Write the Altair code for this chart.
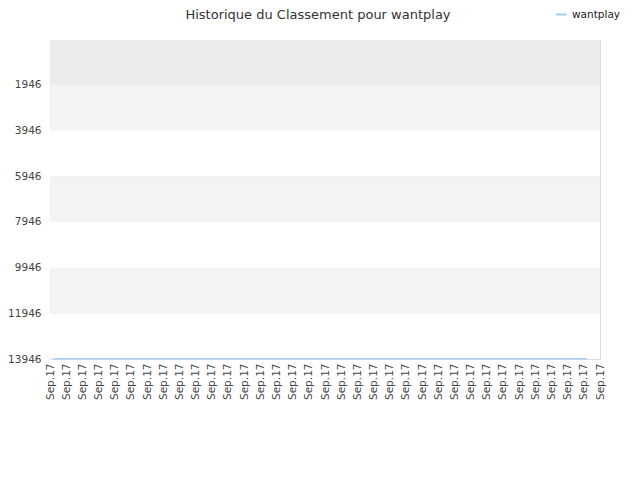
import altair as alt
import pandas as pd

# Data
x_labels = ["Sep.17"] * 35
line_x = [0.2, 4.0, 8.0, 12.0, 16.0, 20.0, 24.0, 26.5, 29.0, 33.2]
line_rank = [13940, 13940, 13940, 13940, 13940, 13940, 13940, 13935, 13940, 13940]
series_name = "wantplay"
y_ticks = [1946, 3946, 5946, 7946, 9946, 11946, 13946]
band_start = [-24, 1946, 3946, 5946, 7946, 9946, 11946]
band_end = [1946, 3946, 5946, 7946, 9946, 11946, 13946]
band_fill = ["#ececec", "#f3f3f3", "#ffffff", "#f3f3f3", "#ffffff", "#f3f3f3", "#ffffff"]

FONT = "DejaVu Sans"
Y_DOMAIN = [13946, -24]
X_DOMAIN = [0, 34]

bands = pd.DataFrame({"y": band_start, "y2": band_end, "fill": band_fill})
line_df = pd.DataFrame({"x": line_x, "rank": line_rank, "s": [series_name] * len(line_x)})

yscale = alt.Scale(domain=Y_DOMAIN, nice=False, zero=False)
xscale = alt.Scale(domain=X_DOMAIN, nice=False, zero=False)

y_axis = alt.Axis(
    values=y_ticks,
    format="d",
    labelFont=FONT,
    labelFontSize=10.5,
    labelColor="#444",
    labelPadding=9,
    ticks=False,
    grid=True,
    gridColor="#dedede",
    domain=True,
    domainColor="#cccccc",
)

band_layer = alt.Chart(bands).mark_rect().encode(
    x=alt.value(0),
    x2=alt.value(550),
    y=alt.Y("y:Q", scale=yscale, axis=y_axis, title=None),
    y2="y2:Q",
    fill=alt.Fill("fill:N", scale=None),
)

line_layer = alt.Chart(line_df).mark_line(strokeWidth=1.5).encode(
    x=alt.X(
        "x:Q",
        scale=xscale,
        title=None,
        axis=alt.Axis(
            values=list(range(len(x_labels))),
            labelExpr="'Sep.17'",
            labelAngle=-90,
            labelAlign="right",
            labelBaseline="middle",
            labelFont=FONT,
            labelFontSize=10.5,
            labelColor="#444",
            labelPadding=4,
            ticks=False,
            grid=False,
            domain=False,
            labelOverlap=False,
        ),
    ),
    y=alt.Y("rank:Q", scale=yscale, title=None, axis=y_axis),
    color=alt.Color(
        "s:N",
        scale=alt.Scale(range=["#a6cdf2"]),
        legend=alt.Legend(
            title=None,
            orient="none",
            legendX=505,
            legendY=-32,
            symbolType="stroke",
            symbolSize=120,
            symbolStrokeWidth=2,
            labelFont=FONT,
            labelFontSize=10.5,
            labelColor="#222",
        ),
    ),
)

chart = (
    alt.layer(band_layer, line_layer)
    .properties(
        width=550,
        height=319,
        autosize=alt.AutoSizeParams(type="none"),
        padding={"left": 42, "top": 32, "right": 30, "bottom": 105},
        title=alt.TitleParams(
            "Historique du Classement pour wantplay",
            font=FONT,
            fontSize=13,
            fontWeight="normal",
            color="#333",
            anchor="middle",
            dx=-7,
            dy=30,
            offset=16,
        ),
    )
    .configure_view(stroke="#dddddd", strokeWidth=1)
    .configure(background="white")
)

chart.save("out.html", embed_options={"renderer": "svg", "actions": False})
